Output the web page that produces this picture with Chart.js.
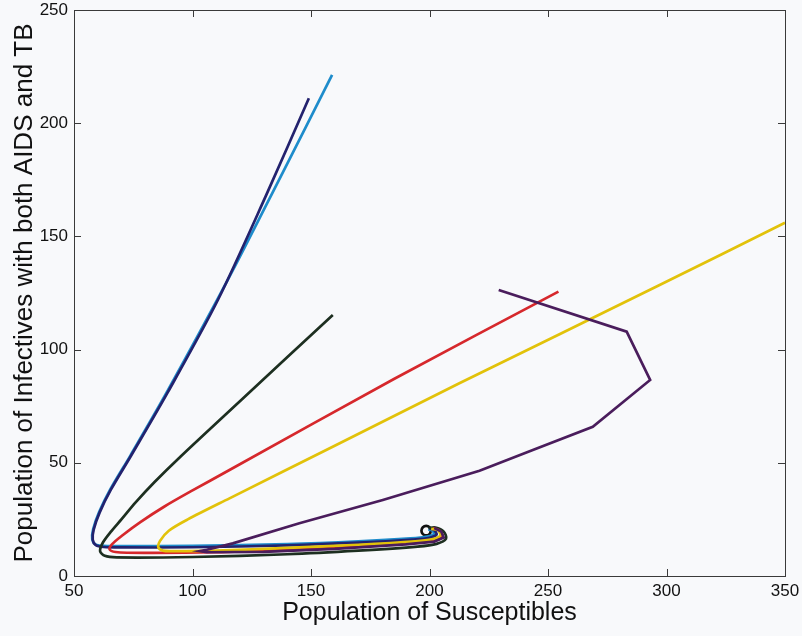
<!DOCTYPE html>
<html>
<head>
<meta charset="utf-8">
<script src="https://cdn.jsdelivr.net/npm/chart.js@4.4.1/dist/chart.umd.min.js"></script>
<style>
  html, body { margin: 0; padding: 0; background: #f8f9fb; }
  #wrap { width: 802px; height: 636px; position: relative; }
</style>
</head>
<body>
<div id="wrap"><canvas id="phase"></canvas></div>
<script>
// axis ranges and ticks
const xTicks = [50, 100, 150, 200, 250, 300, 350];
const yTicks = [0, 50, 100, 150, 200, 250];

// trajectories: [susceptibles, infectives with AIDS and TB]
const navyPath = [[149.1,211.0],[131,168],[110.7,121.9],[89.6,81.2],[74,53],[65.5,38],[60.8,28],[58.3,20.5],[57.9,16],[59.2,13.6],[62.5,12.8],[70,12.6],[100,12.7],[140,13.5],[170,14.7],[193,16.1],[200,16.9],[203,18.3],[202,20.2],[200,21]];
const cyanPath = [[158.9,221.3],[137,176],[115.6,132.2],[89.4,81.6],[73.8,53.2],[65.3,38.2],[60.6,28.2],[58.1,20.7],[57.7,16.2],[59,14],[62.3,13.3],[70,13.2],[100,13.3],[140,14.1],[170,15.3],[192,16.6],[199,17.4],[202,18.6],[201,20.2],[199.5,20.6]];
const greenPath = [[159.2,115.3],[120,77.2],[95,52.8],[84,41.5],[76,32.5],[70,25],[65.5,19.5],[62.2,14.8],[61,11],[63,8.9],[68,8.2],[100,8.4],[140,9.6],[170,11.2],[195,13.0],[203,14.2],[207,16.5],[206,19.6],[202.5,21.4],[199.5,21.2]];
const redPath = [[254.4,125.6],[185,87],[115.6,46.8],[100,37.8],[88,30.6],[78,23.8],[70.5,18],[66,14],[65,11.8],[67.5,10.6],[80,10.2],[110,10.5],[140,11.6],[170,13.0],[195,14.7],[202,15.6],[205.5,17.3],[204.5,19.8],[201.5,21.2]];
const yellowPath = [[350,156],[297.1,128.5],[212.6,85.1],[160,57.5],[115.6,34.3],[98,25],[90,20],[86.3,15.5],[85.6,12.6],[87.5,11.2],[92,11.0],[110,11.2],[140,12.4],[170,13.8],[194,15.3],[201,16.2],[204.5,17.8],[203.5,20.3],[200.7,20.8]];
const purplePath = [[229.2,126.3],[283.2,107.9],[293.1,86.6],[268.9,65.9],[243.6,55.7],[221.1,46.5],[180.3,33.6],[145.1,23.3],[117.0,14.4],[106,11.6],[103,11.0],[106,10.5],[130,10.7],[160,12.0],[190,14.0],[202,15.2],[206,17],[205,19.6],[202,21.2]];
const blackLoop = [[200.6,20.0],[200.0,21.5],[198.6,22.1],[197.2,21.5],[196.6,20.0],[197.2,18.5],[198.6,17.9],[200.0,18.5],[200.6,20.0]];

const toPoints = (arr) => arr.map(p => ({ x: p[0], y: p[1] }));

const line = (data, color, tension) => ({
    data: toPoints(data),
    borderColor: color,
    borderWidth: 2.7,
    pointRadius: 0,
    showLine: true,
    tension: tension,
    fill: false
});

// box frame with inward ticks on all four sides
const matlabBox = {
    id: 'matlabBox',
    afterDraw(chart) {
        const { ctx, chartArea: a, scales } = chart;
        const len = 7;
        ctx.save();
        ctx.strokeStyle = '#3a3a3a';
        ctx.lineWidth = 1;
        ctx.strokeRect(a.left + 0.5, a.top + 0.5, a.right - a.left, a.bottom - a.top);
        ctx.beginPath();
        xTicks.forEach(v => {
            const px = Math.round(scales.x.getPixelForValue(v)) + 0.5;
            ctx.moveTo(px, a.bottom); ctx.lineTo(px, a.bottom - len);
            ctx.moveTo(px, a.top); ctx.lineTo(px, a.top + len);
        });
        yTicks.forEach(v => {
            const py = Math.round(scales.y.getPixelForValue(v)) + 0.5;
            ctx.moveTo(a.left, py); ctx.lineTo(a.left + len, py);
            ctx.moveTo(a.right, py); ctx.lineTo(a.right - len, py);
        });
        ctx.stroke();
        ctx.restore();
    }
};

const font = 'Liberation Sans, Arial, Helvetica, sans-serif';

new Chart(document.getElementById('phase'), {
    type: 'scatter',
    data: {
        datasets: [
            line(purplePath, '#4a1d5c', 0),
            line(yellowPath, '#e2c20a', 0.3),
            line(redPath, '#d6282c', 0.3),
            line(greenPath, '#1d2f20', 0.3),
            line(navyPath, '#23226e', 0.3),
            line(cyanPath, '#1e8ccb', 0.3),
            line(blackLoop, '#111111', 0.5)
        ]
    },
    options: {
        responsive: true,
        maintainAspectRatio: false,
        animation: false,
        layout: { padding: { top: 10, right: 17, left: 0, bottom: 0 } },
        plugins: { legend: { display: false }, tooltip: { enabled: false } },
        scales: {
            x: {
                type: 'linear',
                min: 50, max: 350,
                afterBuildTicks: (s) => { s.ticks = xTicks.map(v => ({ value: v })); },
                afterFit: (s) => { s.height = 60; s.paddingLeft = 0; s.paddingRight = 0; },
                grid: { display: false, drawTicks: false },
                border: { display: false },
                ticks: { color: '#111', font: { family: font, size: 17 }, padding: 5, maxRotation: 0 },
                title: { display: true, text: 'Population of Susceptibles', color: '#111', font: { family: font, size: 25 }, padding: { top: 0, bottom: 8 } }
            },
            y: {
                type: 'linear',
                min: 0, max: 250,
                afterBuildTicks: (s) => { s.ticks = yTicks.map(v => ({ value: v })); },
                afterFit: (s) => { s.width = 74; s.paddingTop = 0; s.paddingBottom = 0; },
                grid: { display: false, drawTicks: false },
                border: { display: false },
                ticks: { color: '#111', font: { family: font, size: 17 }, padding: 6 },
                title: { display: true, text: 'Population of Infectives with both AIDS and TB', color: '#111', font: { family: font, size: 26 }, padding: { top: 9, bottom: 0 } }
            }
        }
    },
    plugins: [matlabBox]
});
</script>
</body>
</html>
